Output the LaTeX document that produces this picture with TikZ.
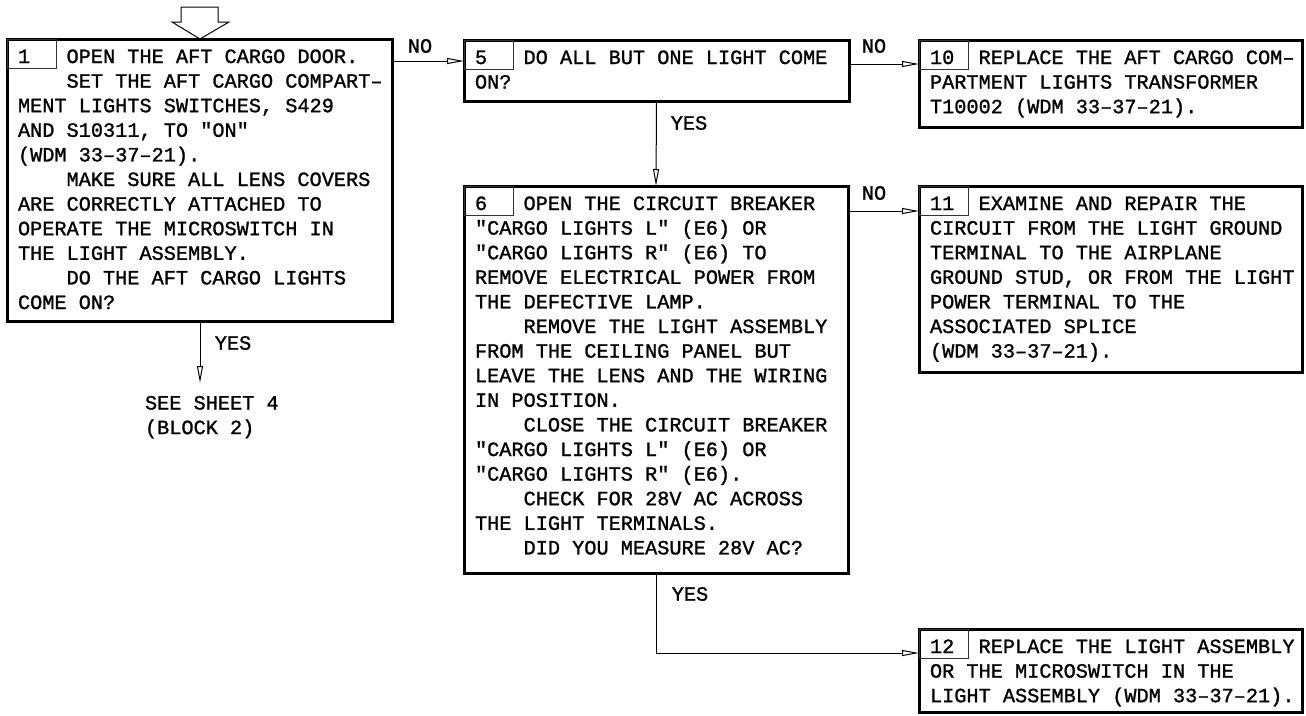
\documentclass[tikz,border=0pt]{standalone}
\usepackage{fontspec}
\usetikzlibrary{arrows.meta}
\newfontfamily\boxmono[FakeBold=1.2]{Liberation Mono}
\newcommand\ind{\hspace*{48.6pt}}
\newcommand\fl{\rule{0pt}{17pt}}
\tikzset{
  x=1pt, y=-1pt,
  every node/.style={font=\boxmono\fontsize{20.25}{24.6}\selectfont, inner sep=0pt, outer sep=0pt},
  blk/.style={draw, line width=3pt, anchor=north west, minimum width=#1},
  numline/.style={draw, line width=0.8pt, black!80},
  txt/.style={anchor=north west, align=left},
  arr/.style={-{Triangle[open,length=17pt,width=6pt]}, line width=1pt},
  lbl/.style={anchor=center},
}
\begin{document}
\begin{tikzpicture}
\useasboundingbox (0,0) rectangle (1306,715);

% boxes
\node[blk=385pt, minimum height=282pt] (b1) at (7,39) {};
\node[blk=385pt, minimum height=61pt] (b5) at (464,40) {};
\node[blk=384pt, minimum height=387pt] (b6) at (464,186) {};
\node[blk=383pt, minimum height=87pt] (b10) at (919,40) {};
\node[blk=383pt, minimum height=186pt] (b11) at (919,186) {};
\node[blk=383pt, minimum height=83pt] (b12) at (919,629) {};

% number boxes
\foreach \b in {b1,b5,b6,b10,b11,b12}{
  \draw[numline] (\b.north west) rectangle ++(49,29);
}

% texts
\node[txt] (t1) at ([shift={(11,7)}]b1.north west) {\fl 1\hspace*{36.45pt}OPEN THE AFT CARGO DOOR.\\
\ind SET THE AFT CARGO COMPART–\\
MENT LIGHTS SWITCHES, S429\\
AND S10311, TO "ON"\\
(WDM 33–37–21).\\
\ind MAKE SURE ALL LENS COVERS\\
ARE CORRECTLY ATTACHED TO\\
OPERATE THE MICROSWITCH IN\\
THE LIGHT ASSEMBLY.\\
\ind DO THE AFT CARGO LIGHTS\\
COME ON?};

\node[txt] (t5) at ([shift={(11,7)}]b5.north west) {\fl 5\hspace*{36.45pt}DO ALL BUT ONE LIGHT COME\\
ON?};

\node[txt] (t6) at ([shift={(11,7)}]b6.north west) {\fl 6\hspace*{36.45pt}OPEN THE CIRCUIT BREAKER\\
"CARGO LIGHTS L" (E6) OR\\
"CARGO LIGHTS R" (E6) TO\\
REMOVE ELECTRICAL POWER FROM\\
THE DEFECTIVE LAMP.\\
\ind REMOVE THE LIGHT ASSEMBLY\\
FROM THE CEILING PANEL BUT\\
LEAVE THE LENS AND THE WIRING\\
IN POSITION.\\
\ind CLOSE THE CIRCUIT BREAKER\\
"CARGO LIGHTS L" (E6) OR\\
"CARGO LIGHTS R" (E6).\\
\ind CHECK FOR 28V AC ACROSS\\
THE LIGHT TERMINALS.\\
\ind DID YOU MEASURE 28V AC?};

\node[txt] (t10) at ([shift={(11,7)}]b10.north west) {\fl 10\hspace*{24.3pt}REPLACE THE AFT CARGO COM–\\
PARTMENT LIGHTS TRANSFORMER\\
T10002 (WDM 33–37–21).};

\node[txt] (t11) at ([shift={(11,7)}]b11.north west) {\fl 11\hspace*{24.3pt}EXAMINE AND REPAIR THE\\
CIRCUIT FROM THE LIGHT GROUND\\
TERMINAL TO THE AIRPLANE\\
GROUND STUD, OR FROM THE LIGHT\\
POWER TERMINAL TO THE\\
ASSOCIATED SPLICE\\
(WDM 33–37–21).};

\node[txt] (t12) at ([shift={(11,7)}]b12.north west) {\fl 12\hspace*{24.3pt}REPLACE THE LIGHT ASSEMBLY\\
OR THE MICROSWITCH IN THE\\
LIGHT ASSEMBLY (WDM 33–37–21).};

% entry block arrow
\draw[line width=1pt] (181,7) -- (218,7) -- (218,22) -- (229,22) -- (b1.north -| 200,0) -- (172,22) -- (181,22) -- cycle;

% see sheet
\coordinate (seeTip) at (200,383);
\node[txt] (see) at (145,392.5) {\fl SEE SHEET 4\\(BLOCK 2)};

% connectors
\draw[arr] (b1.east |- 0,61) -- (b5.west |- 0,61);
\draw[arr] (b5.east |- 0,64) -- (b10.west |- 0,64);
\draw[arr] (b5.south) -- (b6.north);
\draw[arr] (b6.east |- 0,211) -- (b11.west |- 0,211);
\draw[arr] (b6.south) |- (b12.west |- 0,653);
\draw[arr] (b1.south -| seeTip) -- (seeTip);

% labels
\node[lbl] (no1) at (420,46) {NO};
\node[lbl] (no2) at (874,46) {NO};
\node[lbl] (no3) at (874,193) {NO};
\node[lbl] (yes1) at (233,343) {YES};
\node[lbl] (yes5) at (689,123) {YES};
\node[lbl] (yes6) at (690,594) {YES};
\end{tikzpicture}
\end{document}
